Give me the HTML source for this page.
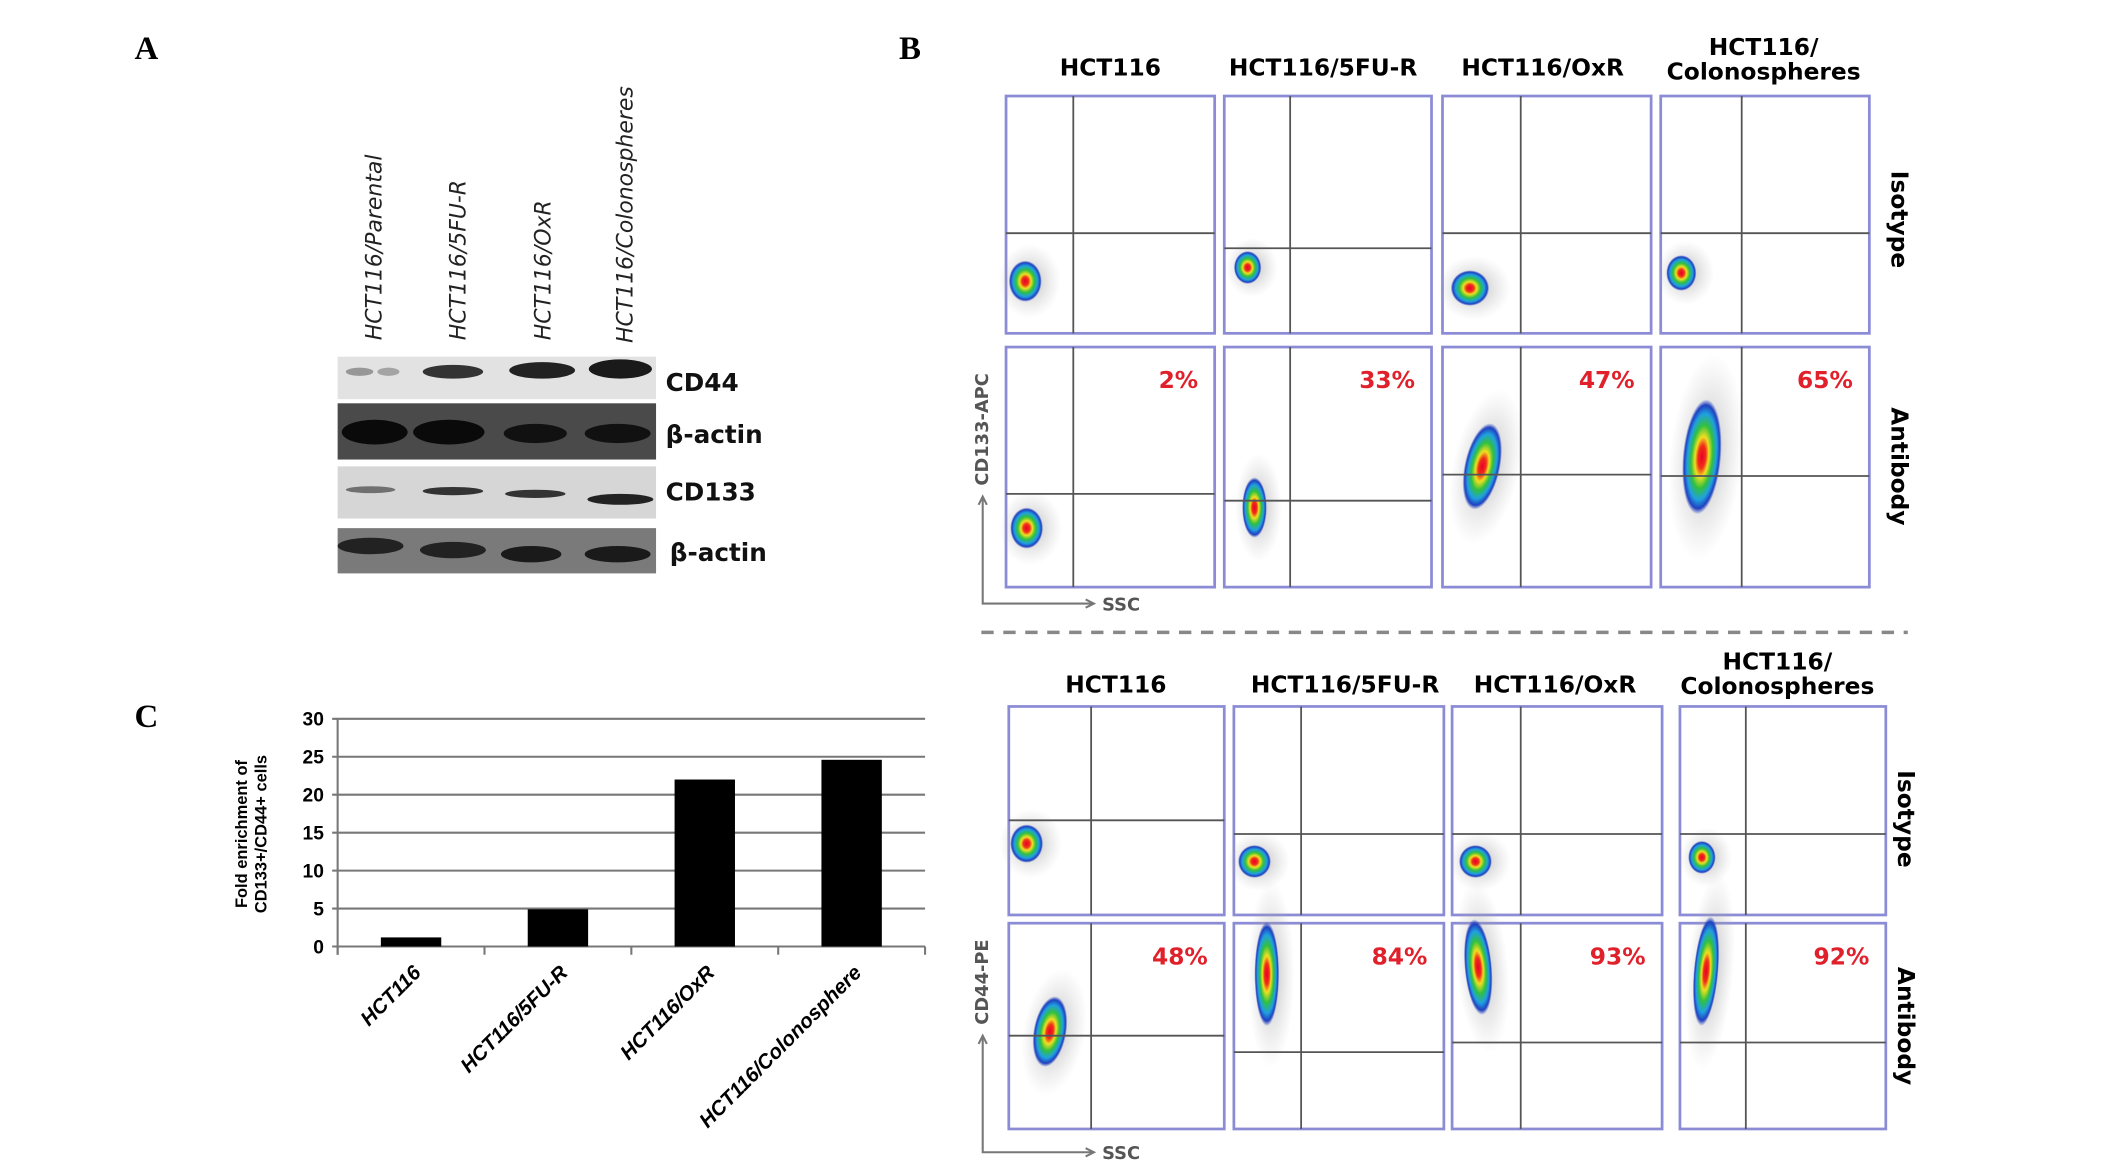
<!DOCTYPE html>
<html><head><meta charset="utf-8"><style>
html,body{margin:0;padding:0;background:#fff;}
svg{display:block;}
.ser{font-family:"Liberation Serif",serif;font-weight:bold;}
.sans{font-family:"DejaVu Sans","Liberation Sans",sans-serif;}
</style></head><body>
<svg id="fig" width="2126" height="1166" viewBox="0 0 1549 850" preserveAspectRatio="none" xmlns="http://www.w3.org/2000/svg">
<defs>
<radialGradient id="dens" cx="50%" cy="50%" r="50%">
<stop offset="0" stop-color="#e8002a"/>
<stop offset="0.2" stop-color="#f03018"/>
<stop offset="0.35" stop-color="#f0e020"/>
<stop offset="0.55" stop-color="#30c040"/>
<stop offset="0.75" stop-color="#20a0e0"/>
<stop offset="0.9" stop-color="#2040c0"/>
<stop offset="1" stop-color="#2040c0" stop-opacity="0"/>
</radialGradient>
<radialGradient id="gray" cx="50%" cy="50%" r="50%">
<stop offset="0" stop-color="#888" stop-opacity="0.55"/>
<stop offset="1" stop-color="#aaa" stop-opacity="0"/>
</radialGradient>
<linearGradient id="band" x1="0" y1="0" x2="0" y2="1">
<stop offset="0" stop-color="#ddd"/><stop offset="0.5" stop-color="#c8c8c8"/><stop offset="1" stop-color="#e0e0e0"/>
</linearGradient>
</defs>

<!-- Panel A -->
<text class="ser" x="98" y="43" font-size="24">A</text>
<g class="sans" font-style="italic" font-size="16" fill="#222">
<text transform="translate(278,248) rotate(-90)">HCT116/Parental</text>
<text transform="translate(339,248) rotate(-90)">HCT116/5FU-R</text>
<text transform="translate(401,248) rotate(-90)">HCT116/OxR</text>
<text transform="translate(461,250) rotate(-90)">HCT116/Colonospheres</text>
</g>
<g>
<rect x="246" y="260" width="232" height="31" fill="#e2e2e2"/>
<ellipse cx="262" cy="271" rx="10" ry="3" fill="#666" opacity="0.6"/>
<ellipse cx="283" cy="271" rx="8" ry="3" fill="#666" opacity="0.5"/>
<ellipse cx="330" cy="271" rx="22" ry="5" fill="#333"/>
<ellipse cx="395" cy="270" rx="24" ry="6" fill="#222"/>
<ellipse cx="452" cy="269" rx="23" ry="7" fill="#1a1a1a"/>
<rect x="246" y="294" width="232" height="41" fill="#4a4a4a"/>
<ellipse cx="273" cy="315" rx="24" ry="9" fill="#0a0a0a"/>
<ellipse cx="327" cy="315" rx="26" ry="9" fill="#0a0a0a"/>
<ellipse cx="390" cy="316" rx="23" ry="7" fill="#111"/>
<ellipse cx="450" cy="316" rx="24" ry="7" fill="#111"/>
<rect x="246" y="340" width="232" height="38" fill="#d6d6d6"/>
<ellipse cx="270" cy="357" rx="18" ry="2.5" fill="#444" opacity="0.7"/>
<ellipse cx="330" cy="358" rx="22" ry="3" fill="#333"/>
<ellipse cx="390" cy="360" rx="22" ry="3" fill="#333"/>
<ellipse cx="452" cy="364" rx="24" ry="4" fill="#222"/>
<rect x="246" y="385" width="232" height="33" fill="#7a7a7a"/>
<ellipse cx="270" cy="398" rx="24" ry="6" fill="#222"/>
<ellipse cx="330" cy="401" rx="24" ry="6" fill="#222"/>
<ellipse cx="387" cy="404" rx="22" ry="6" fill="#1a1a1a"/>
<ellipse cx="450" cy="404" rx="24" ry="6" fill="#1a1a1a"/>
</g>
<g class="sans" font-weight="bold" font-size="18" fill="#111">
<text x="485" y="285">CD44</text>
<text x="485" y="323">β-actin</text>
<text x="485" y="365">CD133</text>
<text x="488" y="409">β-actin</text>
</g>

<!-- Panel B -->
<text class="ser" x="655" y="43" font-size="24">B</text>
<g id="flow"></g>

<!-- Panel C -->
<text class="ser" x="98" y="530" font-size="24">C</text>
<g id="chart"></g>
</svg>

<script>
const NS="http://www.w3.org/2000/svg";
function mk(parent,tag,attrs,text){const e=document.createElementNS(NS,tag);for(const k in attrs)e.setAttribute(k,attrs[k]);if(text!==undefined)e.textContent=text;parent.appendChild(e);return e;}

/* ---------- Bar chart (panel C) ---------- */
const categories=["HCT116","HCT116/5FU-R","HCT116/OxR","HCT116/Colonosphere"];
const enrichment=[1.2,4.9,22,24.6];
const yTicks=[0,5,10,15,20,25,30];
const yMax=30;
const chart=document.getElementById('chart');
const X0=246,X1=674,Y0=690,Y1=524;
function yScale(v){return Y0-(v/yMax)*(Y0-Y1);}
function xBand(i){const w=(X1-X0)/categories.length;return X0+w*i;}
const bandW=(X1-X0)/categories.length;
yTicks.forEach(t=>{
  const y=yScale(t);
  const gl=mk(chart,'line',{x1:X0-4,x2:X1,y1:y,y2:y,stroke:'#777','stroke-width':1.5});
  
  
  const tl=mk(chart,'text',{x:X0-10,y:y+5,'text-anchor':'end','font-size':14,'font-family':'Liberation Sans Narrow, Liberation Sans, sans-serif','font-weight':'bold'},String(t));
  
  
});
const ax=mk(chart,'line',{x1:X0,x2:X0,y1:Y1,y2:Y0+6,stroke:'#777','stroke-width':1.5});


for(let i=0;i<=categories.length;i++){
  const tk=mk(chart,'line',{x1:xBand(i),x2:xBand(i),y1:Y0,y2:Y0+6,stroke:'#777','stroke-width':1.5});
  
  
}
categories.forEach((c,i)=>{
  const cx=xBand(i)+bandW/2, bw=44;
  const b=mk(chart,'rect',{x:cx-bw/2,y:yScale(enrichment[i]),width:bw,height:Y0-yScale(enrichment[i]),fill:'#000'});
  
  
  const l=mk(chart,'text',{transform:`translate(${cx+8},${Y0+20}) rotate(-45)`,'text-anchor':'end','font-size':15,'font-family':'Liberation Sans, sans-serif','font-weight':'bold','font-style':'italic'},c);
  
  
});
const yt=mk(chart,'text',{transform:'translate(180,608) rotate(-90)','text-anchor':'middle','font-size':12,'font-family':'Liberation Sans, sans-serif','font-weight':'bold'},'Fold enrichment of');


const yt2=mk(chart,'text',{transform:'translate(194,608) rotate(-90)','text-anchor':'middle','font-size':12,'font-family':'Liberation Sans, sans-serif','font-weight':'bold'},'CD133+/CD44+ cells');



/* ---------- Flow cytometry (panel B) ---------- */
const flow=document.getElementById('flow');
const headersTop=[["HCT116",809,55],["HCT116/5FU-R",964,55],["HCT116/OxR",1124,55]];
const headersBot=[["HCT116",813,505],["HCT116/5FU-R",980,505],["HCT116/OxR",1133,505]];
function header(list,colo){
  list.forEach(h=>{
    const t=mk(flow,'text',{x:h[1],y:h[2],'text-anchor':'middle','font-size':17,'font-weight':'bold','font-family':'DejaVu Sans, sans-serif'},h[0]);
    
    
  });
  const t1=mk(flow,'text',{x:colo[0],y:colo[1],'text-anchor':'middle','font-size':17,'font-weight':'bold','font-family':'DejaVu Sans, sans-serif'},'HCT116/');
  
  
  const t2=mk(flow,'text',{x:colo[0],y:colo[1]+18,'text-anchor':'middle','font-size':17,'font-weight':'bold','font-family':'DejaVu Sans, sans-serif'},'Colonospheres');
  
  
}
header(headersTop,[1285,40]);
header(headersBot,[1295,488]);

// [x1,x2,y1,y2,vx,hy, blob cx,cy,rx,ry,rot, pct]
const boxes=[
 [733,885,70,243,782,170, 747,205,12,15,0,''],
 [892,1043,70,243,940,181, 909,195,10,12,0,''],
 [1051,1203,70,243,1108,170, 1071,210,14,13,0,''],
 [1210,1362,70,243,1269,170, 1225,199,11,13,0,''],
 [733,885,253,428,782,360, 748,385,12,15,0,'2%'],
 [892,1043,253,428,940,365, 914,370,9,22,0,'33%'],
 [1051,1203,253,428,1108,346, 1080,340,13,32,12,'47%'],
 [1210,1362,253,428,1269,347, 1240,333,14,42,5,'65%'],
 [735,892,515,667,795,598, 748,615,12,14,0,''],
 [899,1052,515,667,948,608, 914,628,12,12,0,''],
 [1058,1211,515,667,1108,608, 1075,628,12,12,0,''],
 [1224,1374,515,667,1272,608, 1240,625,10,12,0,''],
 [735,892,673,823,795,755, 765,752,12,26,10,'48%'],
 [899,1052,673,823,948,767, 923,710,9,38,0,'84%'],
 [1058,1211,673,823,1108,760, 1077,705,10,35,-5,'93%'],
 [1224,1374,673,823,1272,760, 1243,708,9,40,5,'92%']
];
boxes.forEach((b,i)=>{
  const g=mk(flow,'g',{});
  
  
  mk(g,'rect',{x:b[0],y:b[2],width:b[1]-b[0],height:b[3]-b[2],fill:'#fff',stroke:'#8c8cd6','stroke-width':2});
  mk(g,'ellipse',{cx:b[6]+3,cy:b[7],rx:b[8]*1.9,ry:b[9]*1.8,fill:'url(#gray)',transform:`rotate(${b[10]},${b[6]},${b[7]})`});
  mk(g,'ellipse',{cx:b[6],cy:b[7],rx:b[8],ry:b[9],fill:'url(#dens)',transform:`rotate(${b[10]},${b[6]},${b[7]})`});
  mk(g,'line',{x1:b[4],x2:b[4],y1:b[2],y2:b[3],stroke:'#555','stroke-width':1.3});
  mk(g,'line',{x1:b[0],x2:b[1],y1:b[5],y2:b[5],stroke:'#555','stroke-width':1.3});
  if(b[11]){
    const p=mk(g,'text',{x:b[1]-12,y:b[2]+30,'text-anchor':'end','font-size':17,'font-weight':'bold',fill:'#e0202a','font-family':'DejaVu Sans, sans-serif'},b[11]);
    
    
  }
});
const rowLabels=[["Isotype",1378,160],["Antibody",1378,340],["Isotype",1383,597],["Antibody",1383,748]];
rowLabels.forEach(r=>{
  const t=mk(flow,'text',{transform:`translate(${r[1]},${r[2]}) rotate(90)`,'text-anchor':'middle','font-size':17,'font-weight':'bold','font-family':'DejaVu Sans, sans-serif'},r[0]);
  
  
});
function axes(x,yTop,yBot,label,xEnd){
  mk(flow,'path',{d:`M${x},${yTop} L${x},${yBot} L${xEnd},${yBot}`,fill:'none',stroke:'#777','stroke-width':1.5});
  mk(flow,'path',{d:`M${x-3},${yTop+6} L${x},${yTop} L${x+3},${yTop+6}`,fill:'none',stroke:'#777','stroke-width':1.5});
  mk(flow,'path',{d:`M${xEnd-6},${yBot-3} L${xEnd},${yBot} L${xEnd-6},${yBot+3}`,fill:'none',stroke:'#777','stroke-width':1.5});
  const t=mk(flow,'text',{transform:`translate(${x+4},${yTop-8}) rotate(-90)`,'font-size':13,'font-weight':'bold',fill:'#555','font-family':'DejaVu Sans, sans-serif'},label);
  
  
  const s=mk(flow,'text',{x:xEnd+6,y:yBot+5,'font-size':13,'font-weight':'bold',fill:'#555','font-family':'DejaVu Sans, sans-serif'},'SSC');
  
  
}
axes(716,362,440,'CD133-APC',797);
axes(716,755,840,'CD44-PE',797);
const dl=mk(flow,'line',{x1:715,x2:1390,y1:461,y2:461,stroke:'#888','stroke-width':2.5,'stroke-dasharray':'9 7'});


</script>
</body></html>
